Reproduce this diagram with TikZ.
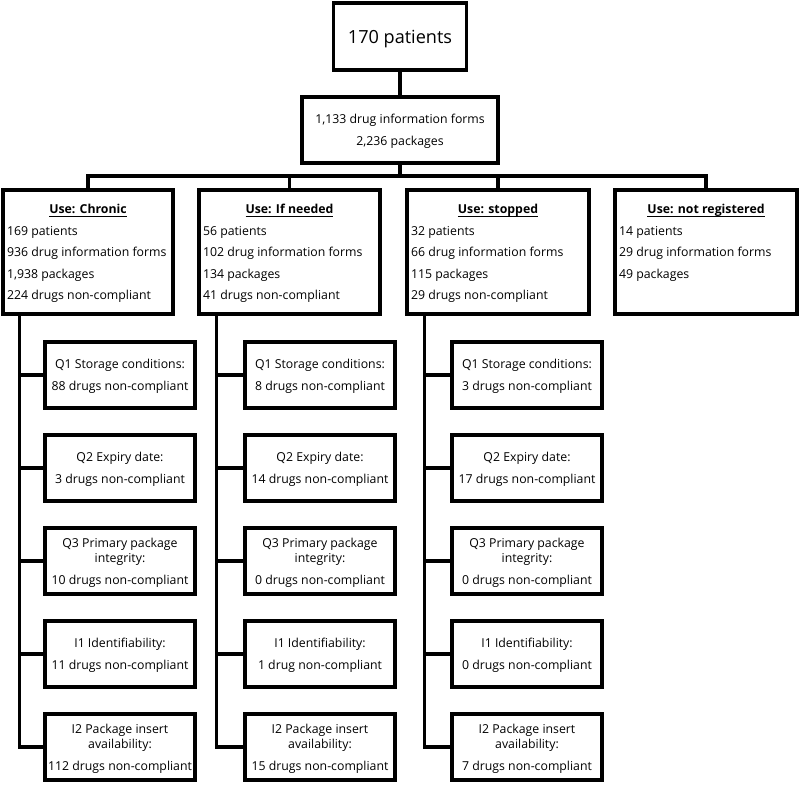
\documentclass[tikz,border=0pt]{standalone}
\usepackage{fontspec}
\setmainfont{Open Sans}
\usepackage{tikz}
\tikzstyle{line} = [line width=2pt]
\tikzstyle{topbox} = [draw,line width=2pt,minimum width=2.66cm,minimum height=1.34cm,text depth=0pt,font=\fontsize{10.3}{12}\selectfont]
\tikzstyle{formbox} = [draw,line width=2pt,minimum width=3.92cm,minimum height=1.32cm,text depth=0pt,align=center,font=\fontsize{7}{12.5}\selectfont]
\tikzstyle{usebox} = [draw,line width=2pt,inner xsep=0.08cm,inner ysep=0pt,font=\fontsize{7}{12.3}\selectfont]
\tikzstyle{subbox} = [draw,line width=2pt,minimum width=3cm,minimum height=1.32cm,inner sep=0pt,text depth=0pt,align=center,font=\fontsize{7}{12.5}\selectfont]
\newcommand{\usetext}[3]{\parbox[c][2.48cm][t]{#1}{{\centering\rule{0pt}{0.47cm}\underline{\smash{\textbf{#2}}}\par}#3}}

\begin{document}
\begin{tikzpicture}[x=0.02cm,y=-0.02cm]
\useasboundingbox (0,0) rectangle (800,784);

\node[topbox] (top) at (400,36.5) {170 patients};
\node[formbox] (forms) at (400,130) {1,133 drug information forms\\2,236 packages};

\node[usebox] (chronic) at (88,252) {\usetext{3.24cm}{Use: Chronic}{169 patients\\936 drug information forms\\1,938 packages\\224 drugs non-compliant}};
\node[usebox] (ifneeded) at (289.5,252) {\usetext{3.46cm}{Use: If needed}{56 patients\\102 drug information forms\\134 packages\\41 drugs non-compliant}};
\node[usebox] (stopped) at (498,252) {\usetext{3.48cm}{Use: stopped}{32 patients\\66 drug information forms\\115 packages\\29 drugs non-compliant}};
\node[usebox] (notreg) at (706,252) {\usetext{3.48cm}{Use: not registered}{14 patients\\29 drug information forms\\49 packages}};

%chronic
\node[subbox] (c1) at (120,375) {Q1 Storage conditions:\\88 drugs non-compliant};
\node[subbox] (c2) at (120,468) {Q2 Expiry date:\\3 drugs non-compliant};
\node[subbox] (c3) at (120,561) {Q3 Primary package\\[-4pt]integrity:\\10 drugs non-compliant};
\node[subbox] (c4) at (120,654) {I1 Identifiability:\\11 drugs non-compliant};
\node[subbox] (c5) at (120,747) {I2 Package insert\\[-4pt]availability:\\112 drugs non-compliant};

%if needed
\node[subbox] (n1) at (320,375) {Q1 Storage conditions:\\8 drugs non-compliant};
\node[subbox] (n2) at (320,468) {Q2 Expiry date:\\14 drugs non-compliant};
\node[subbox] (n3) at (320,561) {Q3 Primary package\\[-4pt]integrity:\\0 drugs non-compliant};
\node[subbox] (n4) at (320,654) {I1 Identifiability:\\1 drug non-compliant};
\node[subbox] (n5) at (320,747) {I2 Package insert\\[-4pt]availability:\\15 drugs non-compliant};

%stopped
\node[subbox] (s1) at (527,375) {Q1 Storage conditions:\\3 drugs non-compliant};
\node[subbox] (s2) at (527,468) {Q2 Expiry date:\\17 drugs non-compliant};
\node[subbox] (s3) at (527,561) {Q3 Primary package\\[-4pt]integrity:\\0 drugs non-compliant};
\node[subbox] (s4) at (527,654) {I1 Identifiability:\\0 drugs non-compliant};
\node[subbox] (s5) at (527,747) {I2 Package insert\\[-4pt]availability:\\7 drugs non-compliant};

\coordinate (bus) at (400,176);
\draw[line] (top) -- (forms);
\draw[line] (forms) -- (bus);
\draw[line] (chronic) |- (bus) -| (notreg);
\draw[line] (ifneeded) -- (ifneeded |- bus);
\draw[line] (stopped) -- (stopped |- bus);

\draw[line] (chronic.south west) ++(18,0) |- (c5);
\draw[line] (ifneeded.south west) ++(19,0) |- (n5);
\draw[line] (stopped.south west) ++(19,0) |- (s5);

\foreach \g/\sx in {c/21,n/218,s/426}
{
 \foreach \r in {1,...,4}
 {
 \draw[line] (\g\r) -- (\g\r -| \sx,0);
 }
}

\end{tikzpicture}
\end{document}
